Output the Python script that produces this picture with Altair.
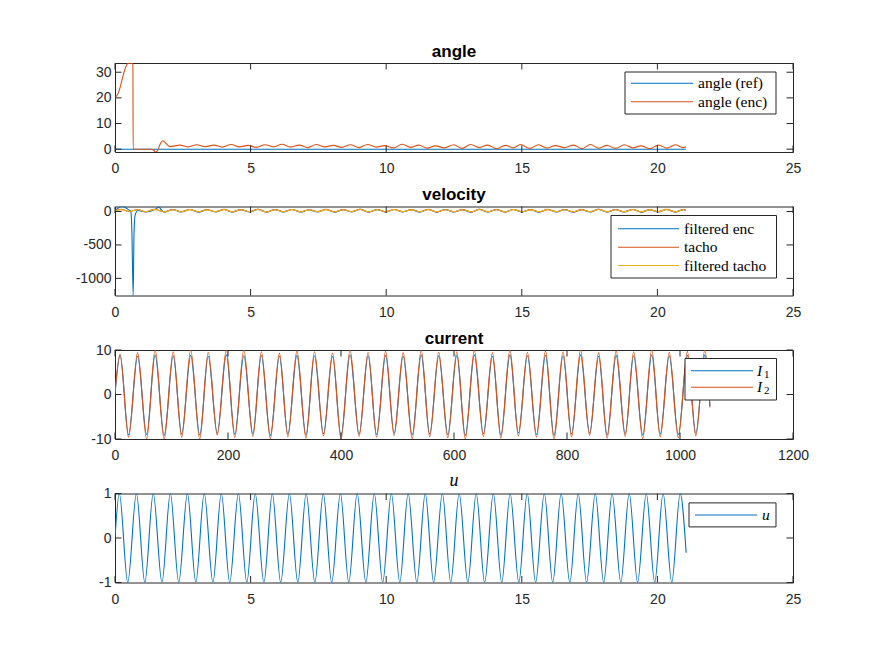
import altair as alt
import pandas as pd

# ---------------- data ----------------
# angle panel (time in s)
angle_ref_t = [0, 21.05]
angle_ref_v = [0, 0]
angle_early_t = [0, 0.08, 0.16, 0.25, 0.34, 0.46, 0.55, 0.62, 0.66, 0.67, 1.35, 1.45, 1.51, 1.58, 1.66, 1.76]
angle_early_v = [20.0, 21.0, 23.0, 26.6, 30.3, 33.3, 33.6, 33.5, 33.0, 0.0, 0.0, -0.6, -1.1, -0.3, 1.8, 3.3]
angle_wave_t = [2.02, 2.39, 2.70, 3.02, 3.33, 3.65, 3.96, 4.28, 4.59, 4.90,
                5.22, 5.53, 5.85, 6.16, 6.48, 6.79, 7.11, 7.42, 7.74, 8.05,
                8.37, 8.68, 9.00, 9.31, 9.63, 9.94, 10.27, 10.59, 10.90, 11.20,
                11.51, 11.82, 12.15, 12.49, 12.80, 13.11, 13.43, 13.74, 14.07, 14.40,
                14.68, 14.95, 15.29, 15.62, 15.93, 16.24, 16.58, 16.91, 17.22, 17.53,
                17.84, 18.14, 18.46, 18.78, 19.09, 19.39, 19.72, 20.04, 20.35, 20.66,
                20.95, 21.05]
angle_wave_v = [1.0, 1.6, 0.9, 1.7, 1.0, 1.6, 0.8, 1.8, 0.9, 1.5,
                0.7, 1.7, 0.9, 1.9, 0.8, 1.6, 0.6, 1.8, 0.9, 1.5,
                0.7, 1.7, 0.6, 1.8, 0.8, 1.4, 0.5, 1.9, 0.7, 1.6,
                0.4, 1.3, 0.5, 1.7, 0.3, 1.8, 0.6, 1.6, 0.2, 1.5,
                0.5, 1.8, 0.3, 1.7, 0.4, 1.4, 0.6, 1.6, 0.2, 1.8,
                0.4, 1.5, 0.3, 1.7, 0.5, 1.3, 0.2, 1.6, 0.4, 1.7,
                0.6, 0.9]

# velocity panel
vel_wave_t = [1.82, 2.13, 2.45, 2.76, 3.08, 3.39, 3.71, 4.02, 4.33, 4.64,
              4.96, 5.27, 5.59, 5.90, 6.22, 6.53, 6.85, 7.16, 7.47, 7.78,
              8.10, 8.41, 8.73, 9.04, 9.36, 9.67, 9.99, 10.30, 10.61, 10.92,
              11.24, 11.55, 11.87, 12.18, 12.50, 12.81, 13.13, 13.44, 13.75, 14.06,
              14.38, 14.69, 15.01, 15.32, 15.64, 15.95, 16.27, 16.58, 16.89, 17.20,
              17.52, 17.83, 18.15, 18.46, 18.78, 19.09, 19.41, 19.72, 20.03, 20.34,
              20.66, 20.97, 21.05]
enc_early_t = [0, 0.1, 0.2, 0.3, 0.4, 0.5, 0.58, 0.62, 0.67, 0.70, 0.74, 0.84, 1.14, 1.45, 1.62, 1.72]
enc_early_v = [10, 45, 70, 75, 55, 25, 5, -250, -1256, -350, -60, 15, -8, 25, 65, 20]
enc_wave_v = [-8, 28, -6, 30, -9, 27, -6, 31, -8, 28,
              -7, 32, -9, 29, -6, 30, -8, 26, -7, 31,
              -9, 28, -5, 32, -9, 29, -7, 30, -6, 27,
              -8, 31, -9, 29, -7, 28, -9, 32, -6, 29,
              -8, 30, -7, 27, -9, 31, -6, 29, -9, 28,
              -7, 32, -8, 29, -6, 30, -9, 27, -7, 31,
              -8, 29, 18]
tacho_early_t = [0, 0.22, 0.53, 0.84, 1.14, 1.45]
tacho_early_v = [15, 32, -2, 30, -4, 33]
tacho_wave_v = [-6, 30, -4, 31, -5, 28, -3, 32, -6, 29,
                -4, 33, -7, 30, -4, 31, -5, 27, -4, 32,
                -6, 29, -3, 33, -7, 30, -4, 31, -4, 28,
                -5, 32, -6, 30, -4, 29, -7, 33, -4, 30,
                -5, 31, -4, 28, -6, 32, -4, 30, -7, 29,
                -4, 33, -5, 30, -4, 31, -6, 28, -4, 32,
                -5, 30, 20]
ftacho_early_v = [15, 28, 1, 27, -1, 29]
ftacho_wave_v = [-3, 27, -2, 28, -3, 25, -1, 29, -3, 26,
                 -2, 30, -4, 27, -2, 28, -3, 24, -2, 29,
                 -3, 26, -1, 30, -4, 27, -2, 28, -2, 25,
                 -3, 29, -3, 27, -2, 26, -4, 30, -2, 27,
                 -3, 28, -2, 25, -3, 29, -2, 27, -4, 26,
                 -2, 30, -3, 27, -2, 28, -3, 25, -2, 29,
                 -3, 27, 18]

# current panel (sample index)
cur_x = [0, 9, 24, 40, 56, 71, 87, 103, 118, 134,
         150, 165, 181, 197, 212, 228, 244, 259, 275, 291,
         306, 322, 338, 353, 369, 385, 400, 416, 432, 448,
         463, 479, 494, 510, 526, 542, 557, 573, 589, 605,
         620, 636, 652, 668, 683, 699, 714, 730, 746, 762,
         777, 793, 808, 824, 840, 856, 871, 887, 903, 918,
         934, 950, 965, 981, 997, 1013, 1028, 1044, 1053]
cur_i1 = [0.1, 8.8, -9.1, 8.6, -9.0, 8.9, -9.2, 8.7, -8.9, 8.8,
          -9.1, 8.6, -8.7, 8.9, -9.0, 8.7, -8.8, 8.8, -9.2, 8.6,
          -8.9, 8.8, -9.1, 8.7, -8.8, 8.6, -9.2, 8.9, -8.9, 8.7,
          -9.0, 8.8, -8.7, 8.6, -9.1, 8.9, -8.9, 8.7, -9.0, 8.8,
          -9.2, 8.9, -8.8, 8.6, -9.1, 8.9, -8.7, 8.7, -9.0, 8.8,
          -9.2, 8.7, -8.9, 8.9, -8.7, 8.6, -9.1, 8.8, -8.8, 8.7,
          -9.1, 8.9, -8.9, 8.7, -9.0, 8.8, -8.7, 8.9, -2.6]
cur_i2 = [0.2, 9.1, -9.6, 9.4, -10.0, 10.0, -10.0, 9.6, -9.6, 10.0,
          -10.0, 9.5, -9.1, 10.0, -9.7, 10.0, -9.4, 9.6, -9.9, 9.3,
          -9.5, 9.8, -9.8, 9.6, -9.3, 9.3, -10.0, 10.0, -9.4, 9.5,
          -9.6, 9.7, -9.2, 9.4, -9.9, 9.9, -9.5, 9.5, -9.7, 9.6,
          -10.0, 9.9, -9.4, 9.4, -9.8, 10.0, -9.3, 9.5, -9.6, 9.8,
          -10.0, 9.6, -9.5, 10.0, -9.2, 9.4, -9.8, 9.8, -9.4, 9.6,
          -9.9, 10.0, -9.5, 9.5, -9.7, 9.7, -9.3, 10.0, -2.9]

# u panel
u_t = [0, 0.16, 0.47, 0.79, 1.10, 1.41, 1.73, 2.04, 2.35, 2.67,
       2.98, 3.29, 3.61, 3.92, 4.23, 4.55, 4.86, 5.17, 5.49, 5.80,
       6.11, 6.43, 6.74, 7.05, 7.37, 7.68, 7.99, 8.31, 8.62, 8.93,
       9.25, 9.56, 9.87, 10.19, 10.50, 10.81, 11.13, 11.44, 11.75, 12.07,
       12.38, 12.69, 13.01, 13.32, 13.63, 13.95, 14.26, 14.57, 14.89, 15.20,
       15.51, 15.83, 16.14, 16.45, 16.77, 17.08, 17.39, 17.71, 18.02, 18.33,
       18.65, 18.96, 19.27, 19.59, 19.90, 20.21, 20.53, 20.84, 21.06]
u_v = [0, 1, -1, 1, -1, 1, -1, 1, -1, 1,
       -1, 1, -1, 1, -1, 1, -1, 1, -1, 1,
       -1, 1, -1, 1, -1, 1, -1, 1, -1, 1,
       -1, 1, -1, 1, -1, 1, -1, 1, -1, 1,
       -1, 1, -1, 1, -1, 1, -1, 1, -1, 1,
       -1, 1, -1, 1, -1, 1, -1, 1, -1, 1,
       -1, 1, -1, 1, -1, 1, -1, 1, -0.33]

time_ticks = [0, 5, 10, 15, 20, 25]
cur_ticks = [0, 200, 400, 600, 800, 1000, 1200]
angle_yticks = [0, 10, 20, 30]
vel_yticks = [-1000, -500, 0]
cur_yticks = [-10, 0, 10]
u_yticks = [-1, 0, 1]

# ---------------- style ----------------
W, H = 678, 89
AX = "#262626"
BLUE, ORANGE, YELLOW = "#0072BD", "#D95319", "#EDB120"
SANS = "Liberation Sans"
SERIF = "Liberation Serif"
TICK = 6.5
LEG_FS = 15.5

one = pd.DataFrame({"k": [0]})


def sc(dom):
    return alt.Scale(domain=dom, nice=False, zero=False)


def xaxis(xt):
    return alt.Axis(values=xt, title=None, labelExpr="'' + datum.value", labelPadding=9.5)


def yaxis(yt):
    return alt.Axis(values=yt, title=None, labelExpr="'' + datum.value", labelPadding=4)


def series(x, y, color, xdom, ydom, xt, yt, width=1.1):
    df = pd.DataFrame({"x": x, "y": y})
    return alt.Chart(df).mark_line(color=color, strokeWidth=width, interpolate="monotone", clip=True).encode(
        x=alt.X("x:Q", scale=sc(xdom), axis=xaxis(xt)),
        y=alt.Y("y:Q", scale=sc(ydom), axis=yaxis(yt)),
    )


def frame_ticks(xt, yt, xdom, ydom):
    tx = pd.DataFrame({"x": xt})
    ty = pd.DataFrame({"y": yt})
    bx = alt.Chart(tx).mark_rule(color=AX, strokeWidth=1)
    by = alt.Chart(ty).mark_rule(color=AX, strokeWidth=1)
    X = alt.X("x:Q", scale=sc(xdom), axis=xaxis(xt))
    Y = alt.Y("y:Q", scale=sc(ydom), axis=yaxis(yt))
    return [
        bx.encode(x=X, y=alt.value(0), y2=alt.value(TICK)),
        bx.encode(x=X, y=alt.value(H), y2=alt.value(H - TICK)),
        by.encode(y=Y, x=alt.value(0), x2=alt.value(TICK)),
        by.encode(y=Y, x=alt.value(W), x2=alt.value(W - TICK)),
    ]


def title(text, serif_italic=False):
    if serif_italic:
        m = alt.Chart(one).mark_text(text=text, font=SERIF, fontSize=18, fontStyle="italic",
                                     align="center", baseline="alphabetic", color="black")
        return m.encode(x=alt.value(W / 2), y=alt.value(-8))
    m = alt.Chart(one).mark_text(text=text, font=SANS, fontSize=17, fontWeight="bold",
                                 align="center", baseline="alphabetic", color="black")
    return m.encode(x=alt.value(W / 2), y=alt.value(-6.5))


def legend_box(x0, x1, y0, y1):
    return alt.Chart(one).mark_rect(fill="white", stroke=AX, strokeWidth=1).encode(
        x=alt.value(x0), x2=alt.value(x1), y=alt.value(y0), y2=alt.value(y1))


def legend_line(x0, x1, y, color):
    return alt.Chart(one).mark_rule(color=color, strokeWidth=1.1).encode(
        x=alt.value(x0), x2=alt.value(x1), y=alt.value(y))


def legend_text(x, y, label, italic=False, size=LEG_FS):
    kw = dict(text=label, font=SERIF, fontSize=size, align="left", baseline="middle", color="black")
    if italic:
        kw["fontStyle"] = "italic"
    return alt.Chart(one).mark_text(**kw).encode(x=alt.value(x), y=alt.value(y))


# ---------------- panel 1: angle ----------------
adom, ax_dom = [-1.1, 33.6], [0, 25]
p1 = alt.layer(
    series(angle_ref_t, angle_ref_v, BLUE, ax_dom, adom, time_ticks, angle_yticks),
    series(angle_early_t + angle_wave_t, angle_early_v + angle_wave_v, ORANGE, ax_dom, adom, time_ticks, angle_yticks),
    *frame_ticks(time_ticks, angle_yticks, ax_dom, adom),
    title("angle"),
    legend_box(510, 661, 9, 51),
    legend_line(516, 578, 20.3, BLUE),
    legend_text(583, 20.3, "angle (ref)"),
    legend_line(516, 578, 38.7, ORANGE),
    legend_text(583, 38.7, "angle (enc)"),
).properties(width=W, height=H)

# ---------------- panel 2: velocity ----------------
vdom = [-1256, 75]
p2 = alt.layer(
    series(enc_early_t + vel_wave_t, enc_early_v + enc_wave_v, BLUE, ax_dom, vdom, time_ticks, vel_yticks),
    series(tacho_early_t + vel_wave_t, tacho_early_v + tacho_wave_v, ORANGE, ax_dom, vdom, time_ticks, vel_yticks),
    series(tacho_early_t + vel_wave_t, ftacho_early_v + ftacho_wave_v, YELLOW, ax_dom, vdom, time_ticks, vel_yticks),
    *frame_ticks(time_ticks, vel_yticks, ax_dom, vdom),
    title("velocity"),
    legend_box(496, 661.5, 9, 71.5),
    legend_line(503, 564, 22.3, BLUE),
    legend_text(569, 22.3, "filtered enc"),
    legend_line(503, 564, 40.7, ORANGE),
    legend_text(569, 40.7, "tacho"),
    legend_line(503, 564, 59, YELLOW),
    legend_text(569, 59, "filtered tacho"),
).properties(width=W, height=H)

# ---------------- panel 3: current ----------------
cdom, cx_dom = [-10, 10], [0, 1200]
p3 = alt.layer(
    series(cur_x, cur_i1, BLUE, cx_dom, cdom, cur_ticks, cur_yticks),
    series(cur_x, cur_i2, ORANGE, cx_dom, cdom, cur_ticks, cur_yticks),
    *frame_ticks(cur_ticks, cur_yticks, cx_dom, cdom),
    title("current"),
    legend_box(570, 661.5, 8.5, 50),
    legend_line(576, 638, 20.7, BLUE),
    legend_text(642, 20.7, "I", italic=True),
    legend_text(649, 24.5, "1", size=11),
    legend_line(576, 638, 37.3, ORANGE),
    legend_text(642, 37.3, "I", italic=True),
    legend_text(649, 41.1, "2", size=11),
).properties(width=W, height=H)

# ---------------- panel 4: u ----------------
udom = [-1, 1]
p4 = alt.layer(
    series(u_t, u_v, BLUE, ax_dom, udom, time_ticks, u_yticks),
    *frame_ticks(time_ticks, u_yticks, ax_dom, udom),
    title("u", serif_italic=True),
    legend_box(574, 661, 9.4, 33.4),
    legend_line(580, 642, 21.5, BLUE),
    legend_text(647, 21, "u", italic=True),
).properties(width=W, height=H)

chart = alt.vconcat(p1, p2, p3, p4, spacing=54.5, bounds="flush").properties(
    padding={"left": 74, "top": 42, "right": 5, "bottom": 5}
).configure_view(stroke=AX, strokeWidth=1).configure_axis(
    labelFont=SANS, labelFontSize=14, labelColor=AX, labelFlush=False, labelOverlap=False,
    domain=False, ticks=False, grid=False
)

chart.save("out.html", embed_options={"renderer": "svg", "actions": False})
